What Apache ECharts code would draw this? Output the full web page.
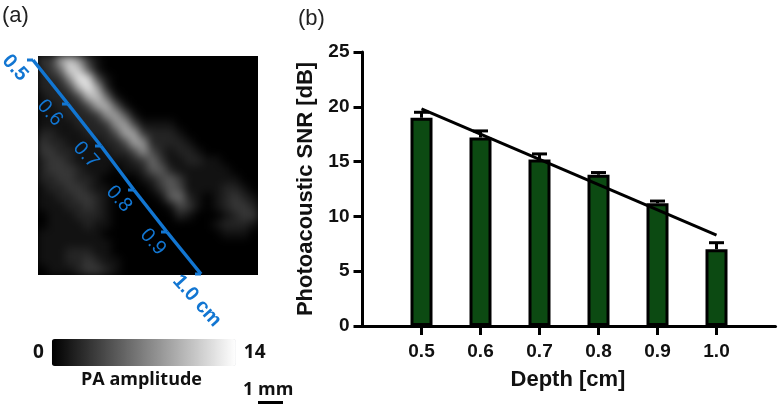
<!DOCTYPE html>
<html>
<head>
<meta charset="utf-8">
<style>html,body{margin:0;padding:0;background:#fff}#c{width:780px;height:406px}</style>
<script src="https://cdn.jsdelivr.net/npm/echarts@6/dist/echarts.min.js"></script>
</head>
<body>
<div id="c"></div>
<script>
// Panel (b)
const depths = [0.5, 0.6, 0.7, 0.8, 0.9, 1.0];
const snr = [19.0, 17.2, 15.2, 13.8, 11.2, 7.0];
const snrErrTop = [19.5, 17.8, 15.7, 14.0, 11.4, 7.6];
const trendDepth = [0.5, 1.0];
const trendSnr = [19.8, 8.3];

// Panel (a): PA amplitude, rows top to bottom
const paRows = [
  [3,3,9,11,8,3,1,0,0,0,0,0,0,0,0,0,0,0,0,0,0,0,0,0],
  [2,3,6,12,11,5,1,0,0,0,0,0,0,0,0,0,0,0,0,0,0,0,0,0],
  [2,2,3,8,13,12,4,1,0,0,0,0,0,0,0,0,0,0,0,0,0,0,0,0],
  [2,2,2,4,10,13,9,2,0,0,0,0,0,0,0,0,0,0,0,0,0,0,0,0],
  [1,2,2,2,4,10,11,6,1,0,0,0,0,0,0,0,0,0,0,0,0,0,0,0],
  [1,1,2,2,2,4,9,10,5,1,0,0,0,0,0,0,0,0,0,0,0,0,0,0],
  [1,1,1,2,2,2,3,8,9,5,1,0,0,0,0,0,0,0,0,0,0,0,0,0],
  [1,1,1,1,2,2,2,3,8,9,4,1,1,1,1,0,0,0,0,0,0,0,0,0],
  [2,2,1,1,1,2,2,2,4,9,9,3,2,2,2,1,0,0,0,0,0,0,0,0],
  [3,2,2,1,1,1,1,2,2,4,9,8,2,2,2,2,1,0,0,0,0,0,0,0],
  [3,3,2,2,1,1,1,1,2,2,4,8,4,2,1,2,2,1,0,0,0,0,0,0],
  [2,3,3,2,1,1,1,1,1,1,2,3,6,3,1,1,2,2,1,1,0,0,0,0],
  [2,3,3,3,2,1,1,1,0,1,1,2,5,5,2,1,1,1,1,1,1,0,0,0],
  [2,2,3,3,2,2,1,0,0,0,0,1,2,4,5,3,1,1,1,1,1,1,0,0],
  [1,2,2,3,3,2,1,1,0,0,0,0,1,3,5,4,1,1,1,1,2,2,1,0],
  [1,1,2,2,3,3,2,1,0,0,0,0,0,1,5,6,2,1,0,1,2,3,2,1],
  [1,1,1,2,2,3,2,1,0,0,0,0,0,0,1,4,3,1,0,1,2,3,3,2],
  [0,1,1,1,2,2,2,1,0,0,0,0,0,0,0,2,1,0,0,0,1,2,3,3],
  [0,1,1,1,1,2,1,1,0,0,0,0,0,0,0,0,0,0,0,1,2,2,2,1],
  [1,1,1,1,1,1,1,0,0,0,0,0,0,0,0,0,0,0,0,0,1,1,1,0],
  [1,1,1,1,1,1,1,1,0,0,0,0,0,0,0,0,0,0,0,0,0,0,0,0],
  [1,1,1,2,2,2,1,1,0,0,0,0,0,0,0,0,0,0,0,0,0,0,0,0],
  [1,1,1,2,2,3,2,1,1,0,0,0,0,0,0,0,0,0,0,0,0,0,0,0],
  [0,1,1,1,2,3,3,2,1,0,0,0,0,0,0,0,0,0,0,0,0,0,0,0]
];
const paMin = 0;
const paMax = 14;

// Depth scale over the image, in mm of image (1 mm on the scale bar)
const imageWidthMm = 8.8;
const imageHeightMm = 8.76;
const scaleDepths = ['0.5', '0.6', '0.7', '0.8', '0.9', '1.0 cm'];
const scaleTickX = [-0.2, 1.2, 2.52, 3.84, 5.16, 6.52];
const scaleTickY = [0.16, 1.92, 3.6, 5.36, 7.04, 8.72];
const scaleLabelX = [-0.92, 0.48, 1.92, 3.24, 4.6, 6.36];
const scaleLabelY = [0.48, 2.28, 3.96, 5.72, 7.44, 9.8];

const paData = [];
paRows.forEach((row, r) => row.forEach((v, c) => paData.push([c, r, v])));
const colNames = paRows[0].map((_, i) => String(i));
const rowNames = paRows.map((_, i) => String(i));
const BLUE = '#1276d2';
const FONT = '"Liberation Sans", Arial, sans-serif';

const chart = echarts.init(document.getElementById('c'), null, {renderer: 'canvas'});
chart.setOption({
  animation: false,
  backgroundColor: 'transparent',
  grid: [
    {left: 38, top: 56, width: 220, height: 219},
    {left: 38, top: 56, width: 220, height: 219},
    {left: 362.5, top: 52, width: 413, height: 274}
  ],
  xAxis: [
    {gridIndex: 0, type: 'category', data: colNames, show: false},
    {gridIndex: 1, type: 'value', min: 0, max: imageWidthMm, show: false},
    {gridIndex: 2, type: 'value', min: 0.4, max: 1.1, interval: 0.1,
     name: 'Depth [cm]', nameLocation: 'middle', nameGap: 43,
     nameTextStyle: {fontFamily: FONT, fontWeight: 'bold', fontSize: 22, color: '#111', padding: [0, 2, 0, 0]},
     splitLine: {show: false},
     axisLine: {lineStyle: {color: '#000', width: 3}},
     axisTick: {length: 9, lineStyle: {color: '#000', width: 3}, customValues: depths},
     axisLabel: {customValues: depths, margin: 16, fontFamily: FONT, fontWeight: 'bold', fontSize: 19, color: '#111',
       formatter: v => Number(v).toFixed(1)}}
  ],
  yAxis: [
    {gridIndex: 0, type: 'category', data: rowNames, inverse: true, show: false},
    {gridIndex: 1, type: 'value', min: 0, max: imageHeightMm, inverse: true, show: false},
    {gridIndex: 2, type: 'value', min: 0, max: 25, interval: 5,
     name: 'Photoacoustic SNR [dB]', nameLocation: 'middle', nameGap: 46,
     nameTextStyle: {fontFamily: FONT, fontWeight: 'bold', fontSize: 22, color: '#111'},
     splitLine: {show: false},
     axisLine: {show: true, lineStyle: {color: '#000', width: 3}},
     axisTick: {show: true, length: 9, lineStyle: {color: '#000', width: 3}},
     axisLabel: {margin: 13, fontFamily: FONT, fontWeight: 'bold', fontSize: 19, color: '#111'}}
  ],
  visualMap: {
    type: 'continuous', seriesIndex: 0, min: paMin, max: paMax, calculable: false, realtime: false,
    orient: 'horizontal', left: 18, top: 324, itemWidth: 27, itemHeight: 184,
    text: [String(paMax), String(paMin)], textGap: 8,
    textStyle: {fontFamily: '"Open Sans", sans-serif', fontWeight: 700, fontSize: 19, color: '#111'},
    inRange: {color: ['#000000', '#ffffff']}
  },
  title: [
    {text: '(a)', left: -3, top: 0, textStyle: {fontFamily: FONT, fontWeight: 'normal', fontSize: 22, color: '#222'}},
    {text: '(b)', left: 293, top: 3, textStyle: {fontFamily: FONT, fontWeight: 'normal', fontSize: 22, color: '#222'}},
    {text: 'PA amplitude', left: 76, top: 366, textStyle: {fontFamily: '"Open Sans", sans-serif', fontWeight: 700, fontSize: 18, color: '#111'}},
    {text: '1 mm', left: 238, top: 376, textStyle: {fontFamily: '"Open Sans", sans-serif', fontWeight: 700, fontSize: 18, color: '#111'}}
  ],
  graphic: [
    {type: 'rect', shape: {x: 38, y: 56, width: 220, height: 219}, style: {fill: '#000'}, z: -1},
    {type: 'rect', shape: {x: 258, y: 401, width: 25, height: 3}, style: {fill: '#000'}}
  ],
  series: [
    {type: 'heatmap', xAxisIndex: 0, yAxisIndex: 0, data: paData, zlevel: 1, progressive: 0, emphasis: {disabled: true}},
    {type: 'custom', xAxisIndex: 1, yAxisIndex: 1, clip: false, zlevel: 2, silent: true,
     data: scaleDepths.map((d, i) => [scaleTickX[i], scaleTickY[i], scaleLabelX[i], scaleLabelY[i]]),
     renderItem(params, api) {
       const i = params.dataIndex;
       const p = api.coord([api.value(0), api.value(1)]);
       const l = api.coord([api.value(2), api.value(3)]);
       const last = i === scaleDepths.length - 1;
       const children = [
         {type: 'line', shape: {x1: p[0] - 6, y1: p[1], x2: p[0], y2: p[1]}, style: {stroke: BLUE, lineWidth: 3}},
         {type: 'text', x: l[0], y: l[1], rotation: -48 * Math.PI / 180,
          style: {text: scaleDepths[i], x: 0, y: 0, align: 'center', verticalAlign: 'middle', fill: BLUE,
                  font: ((i === 0 || last) ? 'bold ' : '') + '20px ' + FONT}}
       ];
       if (!last) {
         const q = api.coord([scaleTickX[i + 1], scaleTickY[i + 1]]);
         children.unshift({type: 'line', shape: {x1: p[0], y1: p[1], x2: q[0], y2: q[1]}, style: {stroke: BLUE, lineWidth: 3.5}});
       }
       return {type: 'group', children};
     }},
    {type: 'custom', xAxisIndex: 2, yAxisIndex: 2, silent: true,
     data: depths.map((d, i) => [d, snr[i], snrErrTop[i]]),
     renderItem(params, api) {
       const b = api.coord([api.value(0), api.value(1)]);
       const t = api.coord([api.value(0), api.value(2)]);
       const s = {stroke: '#000', lineWidth: 3};
       return {type: 'group', children: [
         {type: 'line', shape: {x1: b[0], y1: b[1], x2: t[0], y2: t[1]}, style: s},
         {type: 'line', shape: {x1: t[0] - 7.5, y1: t[1], x2: t[0] + 7.5, y2: t[1]}, style: s}
       ]};
     }},
    {type: 'bar', xAxisIndex: 2, yAxisIndex: 2, barWidth: 22, silent: true,
     data: depths.map((d, i) => [d, snr[i]]),
     itemStyle: {color: '#0c4a12', borderColor: '#000', borderWidth: 3}},
    {type: 'line', xAxisIndex: 2, yAxisIndex: 2, showSymbol: false, silent: true,
     data: trendDepth.map((d, i) => [d, trendSnr[i]]),
     lineStyle: {color: '#000', width: 3}}
  ]
});

// Soften the cells of the image layer the way the photo's pixels are, kept inside the image frame
const layers = chart.getDom().querySelectorAll('canvas');
if (layers[1]) {
  layers[1].style.filter = 'blur(4px)';
  layers[1].style.clipPath = 'inset(56px 522px 131px 38px)';
}
</script>
</body>
</html>
